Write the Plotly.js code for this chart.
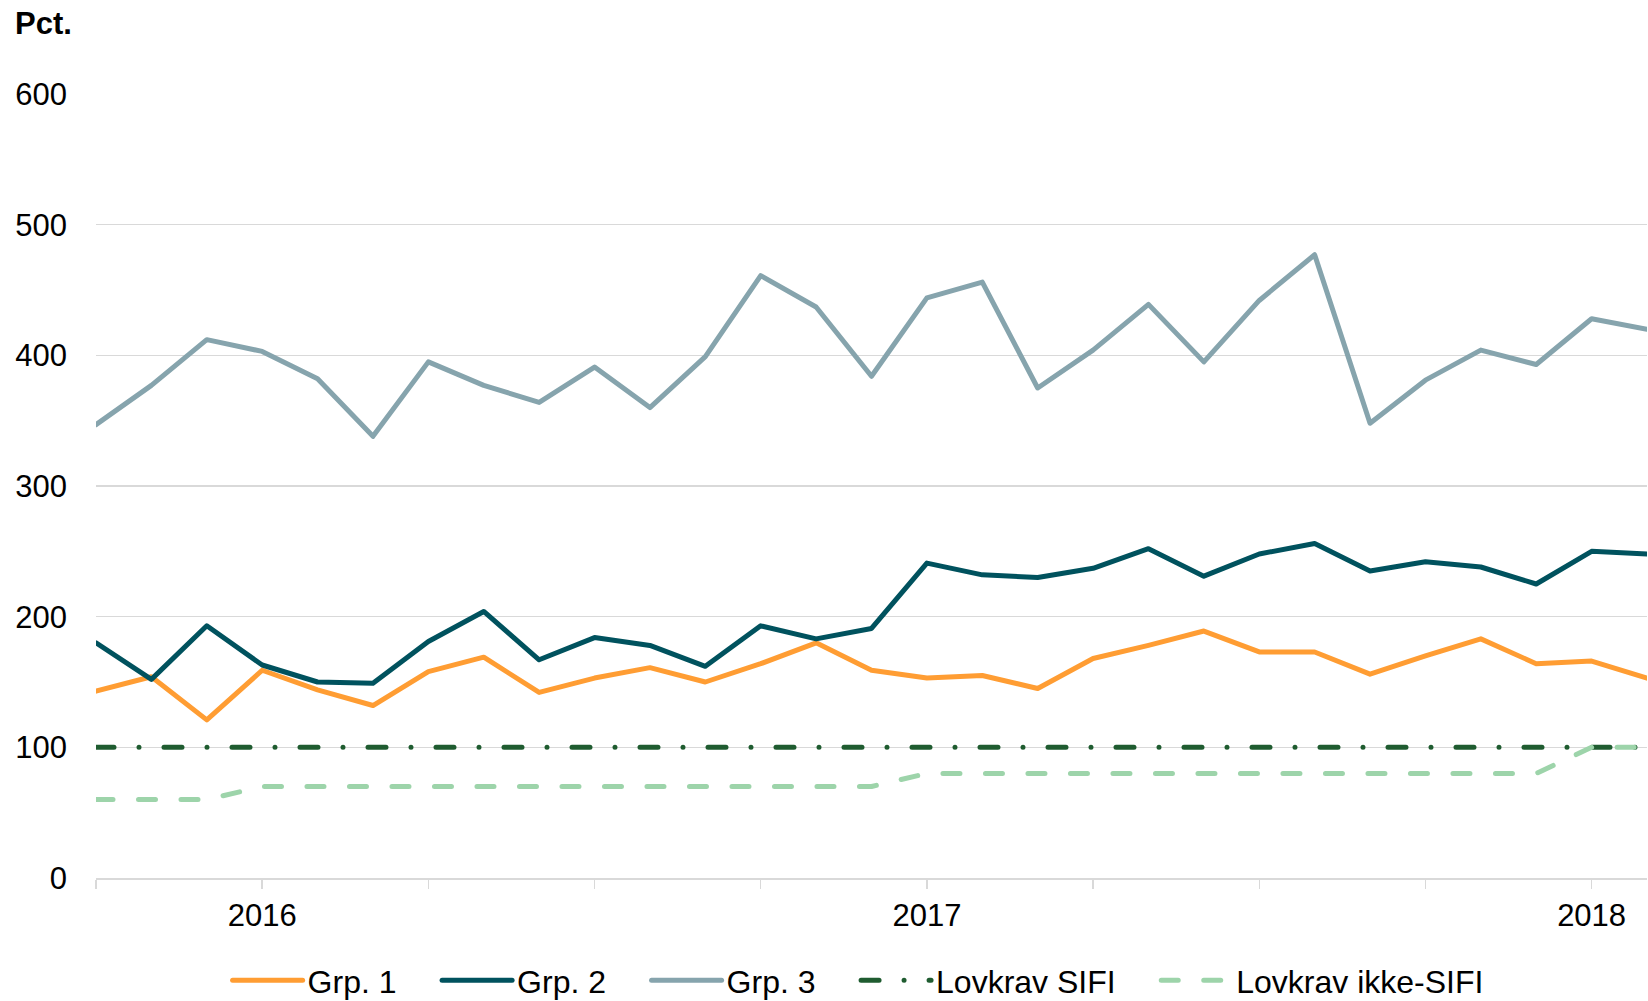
<!DOCTYPE html>
<html>
<head>
<meta charset="utf-8">
<script src="https://cdn.plot.ly/plotly-3.0.1.min.js"></script>
<style>
  html, body { margin: 0; padding: 0; background: #fff; }
  #chart { width: 1648px; height: 1001px; }
  .js-line { stroke-linecap: round; stroke-linejoin: round; }
  #chart .legend { translate: 0px 7px; }
</style>
</head>
<body>
<div id="chart"></div>
<script>
// Monthly observations, Oct 2015 - Feb 2018
const months = ['2015-10','2015-11','2015-12','2016-01','2016-02','2016-03','2016-04','2016-05','2016-06',
  '2016-07','2016-08','2016-09','2016-10','2016-11','2016-12','2017-01','2017-02','2017-03','2017-04',
  '2017-05','2017-06','2017-07','2017-08','2017-09','2017-10','2017-11','2017-12','2018-01','2018-02'];

const grp1 = [143, 154, 121, 159, 144, 132, 158, 169, 142, 153, 161, 150, 164, 180, 159,
  153, 155, 145, 168, 178, 189, 173, 173, 156, 170, 183, 164, 166, 153];
const grp2 = [180, 152, 193, 163, 150, 149, 181, 204, 167, 184, 178, 162, 193, 183, 191,
  241, 232, 230, 237, 252, 231, 248, 256, 235, 242, 238, 225, 250, 248];
const grp3 = [347, 377, 412, 403, 382, 338, 395, 377, 364, 391, 360, 399, 461, 437, 384,
  444, 456, 375, 404, 439, 395, 442, 477, 348, 381, 404, 393, 428, 420];
const lovkravSifi = [100, 100, 100, 100, 100, 100, 100, 100, 100, 100, 100, 100, 100, 100, 100,
  100, 100, 100, 100, 100, 100, 100, 100, 100, 100, 100, 100, 100, 100];
const lovkravIkkeSifi = [60, 60, 60, 70, 70, 70, 70, 70, 70, 70, 70, 70, 70, 70, 70,
  80, 80, 80, 80, 80, 80, 80, 80, 80, 80, 80, 80, 100, 100];

const seriesNames = ['Grp. 1', 'Grp. 2', 'Grp. 3', 'Lovkrav SIFI', 'Lovkrav ikke-SIFI'];
const tickMonths = ['2015-10','2016-01','2016-04','2016-07','2016-10','2017-01','2017-04','2017-07','2017-10','2018-01'];
const tickLabels = ['', '2016', '', '', '', '2017', '', '', '', '2018'];
const yTicks = [0, 100, 200, 300, 400, 500, 600];
const yUnit = 'Pct.';

const FONT = 'Liberation Sans, Arial, Helvetica, sans-serif';
const LW = 5;
const GAP = '\u00a0\u00a0\u00a0\u00a0'; // spacing after each legend entry

const traces = [
  { y: grp1, name: seriesNames[0], color: '#FF9D33', dash: 'solid' },
  { y: grp2, name: seriesNames[1], color: '#00525E', dash: 'solid' },
  { y: grp3, name: seriesNames[2], color: '#86A4AD', dash: 'solid' },
  { y: lovkravSifi, name: seriesNames[3], color: '#1F5C30', dash: '18px,25px,0px,25px' },
  { y: lovkravIkkeSifi, name: seriesNames[4], color: '#9DD4AA', dash: '17px,25.5px' }
].map((s, i, arr) => ({
  type: 'scatter',
  mode: 'lines',
  x: months,
  y: s.y,
  name: s.name + (i < arr.length - 1 ? GAP : ''),
  line: { color: s.color, width: LW, dash: s.dash },
  hoverinfo: 'skip'
}));

const layout = {
  width: 1648,
  height: 1001,
  margin: { l: 96, r: 1, t: 93.5, b: 123.4 },
  paper_bgcolor: '#ffffff',
  plot_bgcolor: '#ffffff',
  font: { family: FONT, size: 31, color: '#000000' },
  showlegend: true,
  legend: {
    orientation: 'h',
    xref: 'container', yref: 'container',
    x: 0.5207, xanchor: 'center',
    y: 0, yanchor: 'bottom',
    font: { family: FONT, size: 32, color: '#000000' },
    itemwidth: 70,
    tracegroupgap: 0,
    bgcolor: 'rgba(0,0,0,0)'
  },
  xaxis: {
    type: 'category',
    range: [0, months.length - 1],
    tickmode: 'array',
    tickvals: tickMonths,
    ticktext: tickLabels,
    ticks: 'outside',
    ticklen: 9,
    tickwidth: 1.5,
    tickcolor: '#d9d9d9',
    showline: true,
    linecolor: '#d9d9d9',
    linewidth: 1.5,
    showgrid: false,
    zeroline: false,
    ticklabelstandoff: 0,
    tickfont: { family: FONT, size: 31, color: '#000000' },
    fixedrange: true
  },
  yaxis: {
    range: [0, 600],
    tickmode: 'array',
    tickvals: yTicks,
    ticks: '',
    showline: false,
    showgrid: true,
    gridcolor: '#d9d9d9',
    gridwidth: 1.3,
    zeroline: false,
    ticklabelstandoff: 28,
    tickfont: { family: FONT, size: 31, color: '#000000' },
    fixedrange: true
  },
  annotations: [{
    text: '<b>' + yUnit + '</b>',
    xref: 'paper', yref: 'paper',
    x: -0.0538, y: 1.0899,
    xanchor: 'left', yanchor: 'middle',
    showarrow: false,
    font: { family: FONT, size: 31, color: '#000000' }
  }]
};

Plotly.newPlot('chart', traces, layout, { displayModeBar: false, staticPlot: true });
</script>
</body>
</html>
